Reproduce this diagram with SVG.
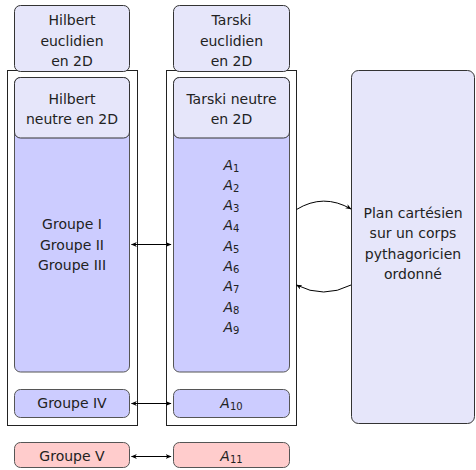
<svg xmlns="http://www.w3.org/2000/svg" width="476" height="470" viewBox="0 0 476 470">
<style>
text{font-family:"DejaVu Sans","Noto Sans",sans-serif;font-size:14px;fill:#222;text-anchor:middle}
.it{font-style:italic}
.sub{font-size:10px;font-style:normal}
.light{fill:#E6E6FA;stroke:#333;stroke-width:1}
.dark{fill:#CCCCFF;stroke:#555;stroke-width:1}
.red{fill:#FFCCCC;stroke:#555;stroke-width:1}
.outer{fill:none;stroke:#222;stroke-width:1}
.conn{fill:none;stroke:#000;stroke-width:1}
</style>
<defs>
<marker id="ah" viewBox="0 0 10 10" refX="9" refY="5" markerWidth="6" markerHeight="6" orient="auto-start-reverse" markerUnits="userSpaceOnUse">
<path d="M0,1 L10,5 L0,9 L3,5 Z" fill="#000"/>
</marker>
</defs>
<g id="frame-hilbert"><rect class="outer" x="7.5" y="70.5" width="130" height="355"/></g>
<g id="frame-tarski"><rect class="outer" x="166.5" y="70.5" width="130" height="355"/></g>
<g id="hilbert-euclidien">
<rect class="light" x="14.5" y="5.5" width="115" height="66" rx="6"/>
<text x="72" y="25">Hilbert</text><text x="72" y="45.5">euclidien</text><text x="72" y="66">en 2D</text>
</g>
<g id="tarski-euclidien">
<rect class="light" x="173.5" y="5.5" width="116" height="66" rx="6"/>
<text x="231.5" y="25">Tarski</text><text x="231.5" y="45.5">euclidien</text><text x="231.5" y="66">en 2D</text>
</g>
<g id="hilbert-groupes">
<rect class="dark" x="14.5" y="77.5" width="115" height="294.5" rx="6"/>
<text x="72" y="229">Groupe I</text><text x="72" y="249.5">Groupe II</text><text x="72" y="270">Groupe III</text>
</g>
<g id="hilbert-neutre">
<rect class="light" x="14.5" y="77.5" width="115" height="60.5" rx="6"/>
<text x="72" y="103.5">Hilbert</text><text x="72" y="124">neutre en 2D</text>
</g>
<g id="tarski-axiomes">
<rect class="dark" x="173.5" y="77.5" width="116" height="294.5" rx="6"/>
<text class="it" x="231.5" y="169.5">A<tspan class="sub" dy="2">1</tspan></text>
<text class="it" x="231.5" y="189.8">A<tspan class="sub" dy="2">2</tspan></text>
<text class="it" x="231.5" y="210.1">A<tspan class="sub" dy="2">3</tspan></text>
<text class="it" x="231.5" y="230.4">A<tspan class="sub" dy="2">4</tspan></text>
<text class="it" x="231.5" y="250.7">A<tspan class="sub" dy="2">5</tspan></text>
<text class="it" x="231.5" y="271">A<tspan class="sub" dy="2">6</tspan></text>
<text class="it" x="231.5" y="291.3">A<tspan class="sub" dy="2">7</tspan></text>
<text class="it" x="231.5" y="311.6">A<tspan class="sub" dy="2">8</tspan></text>
<text class="it" x="231.5" y="331.9">A<tspan class="sub" dy="2">9</tspan></text>
</g>
<g id="tarski-neutre">
<rect class="light" x="173.5" y="77.5" width="116" height="60.5" rx="6"/>
<text x="231.5" y="103.5">Tarski neutre</text><text x="231.5" y="124">en 2D</text>
</g>
<g id="groupe-iv">
<rect class="dark" x="14.5" y="389.5" width="115" height="28" rx="6"/>
<text x="72" y="408">Groupe IV</text>
</g>
<g id="a10">
<rect class="dark" x="173.5" y="389.5" width="116" height="28" rx="6"/>
<text class="it" x="231.5" y="408">A<tspan class="sub" dy="2">10</tspan></text>
</g>
<g id="groupe-v">
<rect class="red" x="14.5" y="442.5" width="115" height="25" rx="6"/>
<text x="72" y="460.5">Groupe V</text>
</g>
<g id="a11">
<rect class="red" x="173.5" y="442.5" width="116" height="25" rx="6"/>
<text class="it" x="231.5" y="460.5">A<tspan class="sub" dy="2">11</tspan></text>
</g>
<g id="plan-cartesien">
<rect class="light" x="351.5" y="70.5" width="123" height="353" rx="7"/>
<text x="413" y="217.5">Plan cartésien</text><text x="413" y="238">sur un corps</text><text x="413" y="258.5">pythagoricien</text><text x="413" y="279">ordonné</text>
</g>
<g id="connectors">
<line class="conn" x1="131.5" y1="244.5" x2="171" y2="244.5" marker-start="url(#ah)" marker-end="url(#ah)"/>
<line class="conn" x1="131.5" y1="403.5" x2="171" y2="403.5" marker-start="url(#ah)" marker-end="url(#ah)"/>
<line class="conn" x1="131.5" y1="456.5" x2="171" y2="456.5" marker-start="url(#ah)" marker-end="url(#ah)"/>
<path class="conn" d="M296.5,209.5 Q323.5,193 351,209" marker-end="url(#ah)"/>
<path class="conn" d="M351,285 Q323.5,299 296.5,285" marker-end="url(#ah)"/>
</g>
</svg>
